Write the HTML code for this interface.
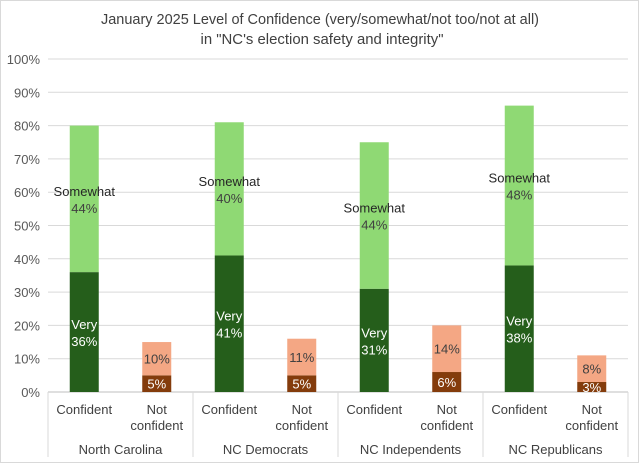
<!DOCTYPE html>
<html><head><meta charset="utf-8"><style>
body{margin:0;background:#fff}
svg{display:block;font-family:"Liberation Sans",sans-serif}
</style></head><body>
<svg id="c" width="640" height="464">
<rect x="0.5" y="0.5" width="638" height="462" fill="#fff" stroke="#d9d9d9"/>
<text x="320" y="24" text-anchor="middle" font-size="15" textLength="438" lengthAdjust="spacingAndGlyphs" fill="#404040">January 2025 Level of Confidence (very/somewhat/not too/not at all)</text>
<text x="322" y="44" text-anchor="middle" font-size="15" textLength="243" lengthAdjust="spacingAndGlyphs" fill="#404040">in "NC's election safety and integrity"</text>
<g id="g"></g>
</svg>
<script>
const groups=["North Carolina","NC Democrats","NC Independents","NC Republicans"];
const veryVals=[36,41,31,38];
const somewhatVals=[44,40,44,48];
const notAtAllVals=[5,5,6,3];
const notTooVals=[10,11,14,8];
const yTicks=[0,10,20,30,40,50,60,70,80,90,100];
const NS="http://www.w3.org/2000/svg";
const g=document.getElementById('g');
const x0=48,x1=628,y0=392,y100=59;
const y=v=>y0-(y0-y100)*v/100;
const gw=(x1-x0)/groups.length;
function el(t,a,txt){const e=document.createElementNS(NS,t);for(const k in a)e.setAttribute(k,a[k]);if(txt!==undefined)e.textContent=txt;g.appendChild(e);return e;}
yTicks.forEach(t=>{
 const l=el('line',{x1:x0,x2:x1,y1:y(t),y2:y(t),stroke:'#d9d9d9'});
 
 
 const tx=el('text',{x:40,y:y(t)+5,'text-anchor':'end','font-size':13,fill:'#595959'},t+'%');
 
 
});
const ax=el('line',{x1:x0,x2:x1,y1:y0,y2:y0,stroke:'#bfbfbf'});


for(let i=0;i<=groups.length;i++){
 const s=el('line',{x1:x0+i*gw,x2:x0+i*gw,y1:y0,y2:457,stroke:'#d9d9d9'});
 
 
}
function bar(cx,base,v,fill,name){
 const r=el('rect',{x:cx-14.5,y:y(base+v),width:29,height:y(base)-y(base+v),fill:fill});
 
 
}
function lbl(cx,yy,t,fill,bold,name){
 const e=el('text',{x:cx,y:yy,'text-anchor':'middle','font-size':13,fill:fill,'font-weight':bold?'bold':'normal'},t);
 
 
}
groups.forEach((gn,i)=>{
 const c1=x0+i*gw+gw/4, c2=x0+i*gw+3*gw/4;
 bar(c1,0,veryVals[i],'#255e1b','bar-very-'+i);
 bar(c1,veryVals[i],somewhatVals[i],'#8fd974','bar-somewhat-'+i);
 bar(c2,0,notAtAllVals[i],'#843c0c','bar-not-at-all-'+i);
 bar(c2,notAtAllVals[i],notTooVals[i],'#f4a784','bar-not-too-'+i);
 const ym=y(veryVals[i]/2);
 lbl(c1,ym-3,'Very','#fff',false,'label-very-'+i);
 lbl(c1,ym+14,veryVals[i]+'%','#fff',false,'value-very-'+i);
 const ys=y(veryVals[i]+somewhatVals[i]/2);
 lbl(c1,ys-3,'Somewhat','#262626',false,'label-somewhat-'+i);
 lbl(c1,ys+14,somewhatVals[i]+'%','#404040',false,'value-somewhat-'+i);
 lbl(c2,y(notAtAllVals[i]/2)+5,notAtAllVals[i]+'%','#fff',false,'value-not-at-all-'+i);
 lbl(c2,y(notAtAllVals[i]+notTooVals[i]/2)+5,notTooVals[i]+'%','#404040',false,'value-not-too-'+i);
 lbl(c1,414,'Confident','#404040',false,'category-confident-'+i);
 lbl(c2,414,'Not','#404040',false,'category-not-'+i);
 lbl(c2,430,'confident','#404040',false,'category-notconfident-'+i);
 lbl(x0+i*gw+gw/2,454,gn,'#404040',false,'group-label-'+i);
});
</script>
</body></html>
